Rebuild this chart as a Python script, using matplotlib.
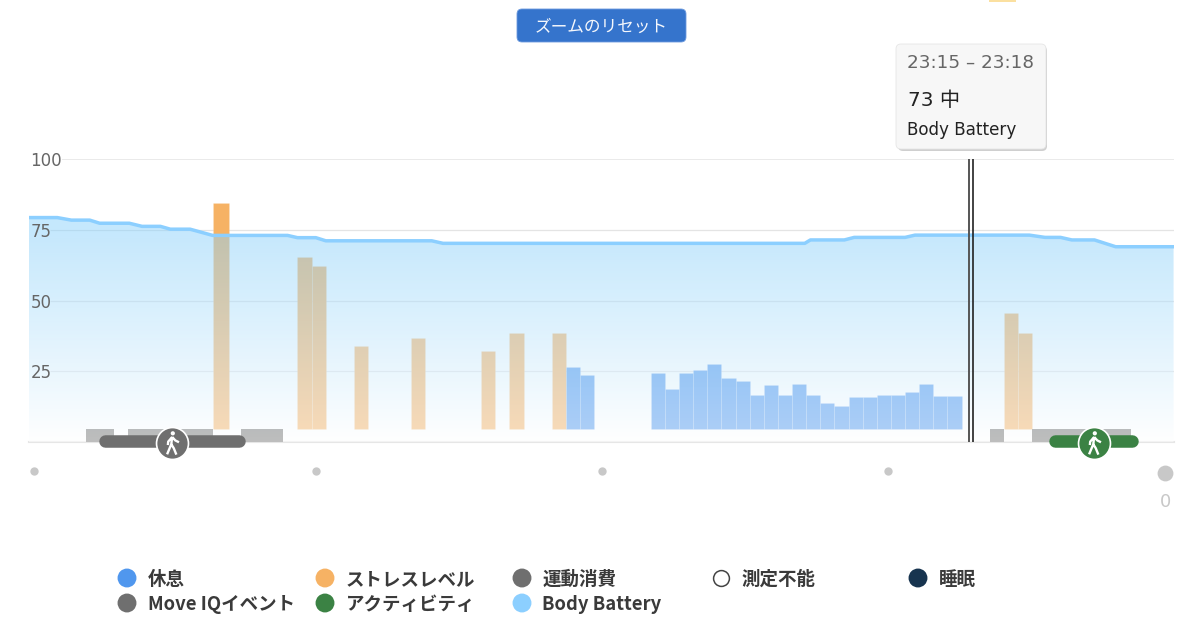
import numpy as np
import matplotlib
matplotlib.use('Agg')
import matplotlib.pyplot as plt
from matplotlib.patches import FancyBboxPatch, Rectangle
from matplotlib.path import Path

plt.rcParams['font.family'] = ['DejaVu Sans', 'Noto Sans CJK JP']
JP = ['Noto Sans CJK JP', 'DejaVu Sans']

# x is counted in 3 minute slots from the left edge of the zoomed view
battery_slots = [0, 2, 3, 4.3, 5, 7.1, 8, 9.3, 10, 11.4, 13, 18.3, 19, 20.3, 21, 28.5, 29.3,
                 54.9, 55.3, 57.7, 58.4, 62, 62.7, 70.8, 71.9, 73, 73.8, 75.4, 76.9, 81]
battery_values = [79.3, 79.3, 78.4, 78.4, 77.3, 77.3, 76.2, 76.2, 75.2, 75.2, 73, 73, 72.2, 72.2, 71.1,
                  71.1, 70.2, 70.2, 71.4, 71.4, 72.3, 72.3, 73.1, 73.1, 72.3, 72.3, 71.4, 71.4, 69, 69]

stress_slots = [13, 19, 20, 23, 27, 32, 34, 37, 69, 70]
stress_values = [84.3, 65.2, 62.3, 34, 36.9, 32, 38.4, 38.4, 45.5, 38.4]

rest_slots = [38, 39] + list(range(44, 66))
rest_values = [26.5, 23.7, 24.3, 18.8, 24.3, 25.4, 27.5, 22.6, 21.5, 16.7, 20, 16.7, 20.5,
               16.6, 13.9, 12.8, 16, 16, 16.6, 16.6, 17.8, 20.5, 16.1, 16.1]

exercise_slots = [4, 5, 7, 8, 9, 10, 11, 12, 15, 16, 17, 68, 71, 72, 73, 74, 75, 76, 77]

yticks = [25, 50, 75, 100]
time_dots = [0.35, 20.3, 40.55, 60.8]
bar_floor = 4.6

legend_labels = ['休息', 'ストレスレベル', '運動消費', '測定不能', '睡眠',
                 'Move IQイベント', 'アクティビティ', 'Body Battery']
legend_colors = ['#5097ee', '#f6b264', '#6f6f6f', 'white', '#17344f',
                 '#6f6f6f', '#3b8244', '#8ccfff']

BLUE = '#5097ee'
ORANGE = '#f6b264'
GRAY = '#6f6f6f'
GREEN = '#3b8244'
LINE = '#8ccfff'

fig = plt.figure(figsize=(12, 6.28), dpi=100)
ax = fig.add_axes([29 / 1200, 1 - 442 / 628, (1174 - 29) / 1200, (442 - 159) / 628])
ax.set_xlim(0, 81.03)
ax.set_ylim(0, 100)
for s in ax.spines.values():
    s.set_visible(False)
ax.set_xticks([])
ax.set_yticks(yticks)
ax.tick_params(axis='y', length=0, pad=-1, labelsize=12, labelcolor='#666666')
for lab in ax.get_yticklabels():
    lab.set_ha('left')
ax.yaxis.set_zorder(20)

# grid stops short of the tick labels
ax.hlines(100, 2.3, 81.03, color='#e6e6e6', lw=1.2, zorder=1)
ax.hlines(yticks[:-1], 1.5, 81.03, color='#e4e4e4', lw=0.9, zorder=1)
ax.axhline(0, color='#e6e6e6', lw=1.5, zorder=1, clip_on=False)

# bars sit under the area gradient, that is where their washed colours come from
stress_w = [1.12 if s == 13 else 1 for s in stress_slots]
ax.bar(stress_slots, np.array(stress_values) - bar_floor, width=stress_w, bottom=bar_floor,
       align='edge', color=ORANGE, edgecolor=(1, 1, 1, 0.15), lw=0.5, zorder=2)
ax.bar(rest_slots, np.array(rest_values) - bar_floor, width=1, bottom=bar_floor,
       align='edge', color=BLUE, edgecolor=(1, 1, 1, 0.15), lw=0.5, zorder=2)
ax.bar(exercise_slots, bar_floor, width=1, align='edge', color=GRAY, lw=0, zorder=2)

# area gradient, blue with half alpha at the top to white at the bottom
t = np.linspace(1, 0, 256).reshape(-1, 1)
rgba = np.zeros((256, 1, 4))
rgba[..., 0] = (255 + (139 - 255) * t) / 255
rgba[..., 1] = (255 + (209 - 255) * t) / 255
rgba[..., 2] = (255 + (251 - 255) * t) / 255
rgba[..., 3] = 0.55 - 0.05 * t
poly = ax.fill_between(battery_slots, battery_values, 0, facecolor='none', lw=0)
im = ax.imshow(rgba, extent=(0, 81.03, 0, 75), aspect='auto', zorder=3, interpolation='bilinear')
ax.fill_between(battery_slots, battery_values, 75, where=np.array(battery_values) > 75,
                facecolor='#c5e8fd', lw=0, zorder=3, interpolate=True)
im.set_clip_path(poly.get_paths()[0], transform=ax.transData)
ax.set_xlim(0, 81.03)
ax.set_ylim(0, 100)

ax.plot(battery_slots, battery_values, color=LINE, lw=2.5, zorder=5, solid_joinstyle='round')

# crosshair under the tooltip
ax.vlines([66.5, 66.82], 0, 100, color=['#555555', '#222222'], lw=[1.4, 1.2], zorder=6)

# time dots below the axis
ax.scatter(time_dots, [-10.2] * 4, s=36, color='#c8c8c8', clip_on=False, lw=0, zorder=6)
ax.scatter([80.4], [-11], s=130, color='#c8c8c8', clip_on=False, lw=0, zorder=6)
ax.text(80.4, -21.3, '0', ha='center', va='center', fontsize=13, color='#c8c8c8')

# walker icon as a stroked marker
body = Path([(-0.02, 0.42), (-0.08, -0.05), (-0.35, -0.7),
             (-0.08, -0.05), (0.08, -0.3), (0.25, -0.72),
             (-0.02, 0.42), (-0.28, 0.12), (-0.3, -0.1),
             (-0.02, 0.42), (0.18, 0.2), (0.42, 0.08)],
            [Path.MOVETO, Path.LINETO, Path.LINETO,
             Path.MOVETO, Path.LINETO, Path.LINETO,
             Path.MOVETO, Path.LINETO, Path.LINETO,
             Path.MOVETO, Path.LINETO, Path.LINETO])
head = Path.circle((0.02, 0.66), 0.06)
walker = Path.make_compound_path(body, head)

for x0, x1, xc, col in [(5.4, 14.86, 10.15, GRAY), (72.6, 78.06, 75.4, GREEN)]:
    ax.plot([x0, x1], [0.3, 0.3], color=col, lw=9, solid_capstyle='round', clip_on=False, zorder=7)
    ax.plot([xc], [-0.4], 'o', ms=23, mfc=col, mec='white', mew=1.2, clip_on=False, zorder=8)
    ax.plot([xc], [-0.4], marker=walker, ms=16, mfc='none', mec='white', mew=1.7, clip_on=False, zorder=9)

# page furniture on a pixel overlay
ui = fig.add_axes([0, 0, 1, 1], zorder=10)
ui.set_xlim(0, 1200)
ui.set_ylim(628, 0)
ui.axis('off')

ui.add_patch(FancyBboxPatch((517, 9), 169, 33, boxstyle='round,pad=0,rounding_size=5',
                            fc='#3574cc', ec='#6d9ade', lw=0.6))
ui.text(601.5, 27.5, 'ズームのリセット', ha='center', va='center', color='#f4f7fc', fontsize=12, family=JP)
ui.add_patch(Rectangle((989, 0), 27, 1.5, fc='#fbe0a0', lw=0))

ui.add_patch(FancyBboxPatch((898, 46), 149, 105, boxstyle='round,pad=0,rounding_size=5',
                            fc='#b0b0b0', ec='none', alpha=0.6))
ui.add_patch(FancyBboxPatch((896, 44), 150, 105, boxstyle='round,pad=0,rounding_size=5',
                            fc='#f7f7f7', ec='#e6e6e6', lw=0.6))
ui.text(907, 62.5, '23:15 – 23:18', va='center', color='#666666', fontsize=13.2)
ui.text(908, 100, '73 中', va='center', color='#222222', fontsize=14.5, family=['DejaVu Sans', 'Noto Sans CJK JP'])
ui.text(907, 130, 'Body Battery', va='center', color='#222222', fontsize=12.1)

col_x = [127, 325, 522, 721, 918, 127, 325, 522]
row_y = [578, 578, 578, 578, 578, 603, 603, 603]
for x, y, lab, col in zip(col_x, row_y, legend_labels, legend_colors):
    hollow = lab == '測定不能'
    ui.scatter([x], [y], s=185 if not hollow else 130, color=col,
               edgecolor='#444444' if hollow else 'none', lw=1.1 if hollow else 0)
    ui.text(x + 20.5, y + 1.5, lab, va='center', color='#3a3a3a', fontsize=13.3, fontweight='bold', family=JP)
ui.set_xlim(0, 1200)
ui.set_ylim(628, 0)

fig.savefig('out.png', dpi=100)
